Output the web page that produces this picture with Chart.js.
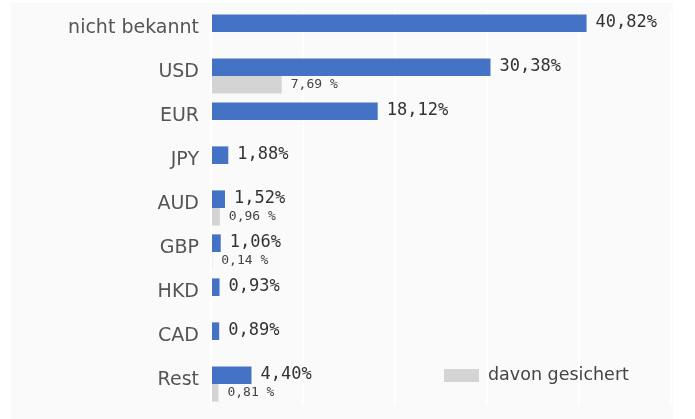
<!DOCTYPE html>
<html>
<head>
<meta charset="utf-8">
<script src="https://cdn.jsdelivr.net/npm/chart.js@4/dist/chart.umd.min.js"></script>
<style>
  html, body { margin: 0; padding: 0; background: #ffffff; }
  #wrap { width: 695px; height: 419px; }
</style>
</head>
<body>
<div id="wrap"><canvas id="c" width="695" height="419"></canvas></div>
<script>
const categories = ['nicht bekannt', 'USD', 'EUR', 'JPY', 'AUD', 'GBP', 'HKD', 'CAD', 'Rest'];
const shareValues = [40.82, 30.38, 18.12, 1.88, 1.52, 1.06, 0.93, 0.89, 4.40];
const hedgedValues = [null, 7.69, null, null, 0.96, 0.14, null, null, 0.81];
const shareLabel = 'Anteil';
const hedgedLabel = 'davon gesichert';
const axisMax = 50;

const fmt = (v) => v.toFixed(2).replace('.', ',');

const panelPlugin = {
  id: 'panel',
  beforeDraw(chart) {
    const ctx = chart.ctx;
    ctx.save();
    ctx.fillStyle = '#fafafa';
    ctx.fillRect(11, 3, 662, 416);
    ctx.restore();
  }
};

const valueLabels = {
  id: 'valueLabels',
  afterDatasetsDraw(chart) {
    const ctx = chart.ctx;
    ctx.save();
    ctx.textAlign = 'left';
    ctx.textBaseline = 'middle';
    chart.data.datasets.forEach((ds, di) => {
      const meta = chart.getDatasetMeta(di);
      meta.data.forEach((bar, i) => {
        const v = ds.data[i];
        if (v === null || v === undefined) return;
        if (di === 0) {
          ctx.font = '17px "DejaVu Sans Mono"';
          ctx.fillStyle = '#333333';
          ctx.fillText(fmt(v) + '%', bar.x + 9, bar.y - 1);
        } else {
          ctx.font = '13px "DejaVu Sans Mono"';
          ctx.fillStyle = '#444444';
          ctx.fillText(fmt(v) + ' %', bar.x + 9, bar.y);
        }
      });
    });
    ctx.restore();
  }
};

const legendPlugin = {
  id: 'customLegend',
  afterDraw(chart) {
    const ds = chart.data.datasets[1];
    const ctx = chart.ctx;
    ctx.save();
    ctx.fillStyle = ds.backgroundColor;
    ctx.fillRect(444, 369, 35, 13);
    ctx.font = '17.5px "DejaVu Sans"';
    ctx.fillStyle = '#444444';
    ctx.textAlign = 'left';
    ctx.textBaseline = 'middle';
    ctx.fillText(ds.label, 488, 375);
    ctx.restore();
  }
};

new Chart(document.getElementById('c'), {
  type: 'bar',
  data: {
    labels: categories,
    datasets: [
      { label: shareLabel, data: shareValues, backgroundColor: '#4472c4', barPercentage: 1.0, categoryPercentage: 0.8 },
      { label: hedgedLabel, data: hedgedValues, backgroundColor: '#d4d4d4', barPercentage: 1.0, categoryPercentage: 0.8 }
    ]
  },
  options: {
    indexAxis: 'y',
    responsive: false,
    animation: false,
    layout: { padding: { top: 10, bottom: 13, right: 24, left: 0 } },
    plugins: { legend: { display: false }, tooltip: { enabled: false } },
    scales: {
      x: {
        min: 0,
        max: axisMax,
        ticks: { display: false, stepSize: 10 },
        border: { display: false },
        grid: { color: '#ffffff', lineWidth: 2, drawTicks: false },
        afterFit(scale) { scale.height = 0; scale.paddingLeft = 0; scale.paddingRight = 0; }
      },
      y: {
        ticks: {
          color: '#555555',
          font: { family: 'DejaVu Sans', size: 19 },
          padding: 12,
          labelOffset: -4
        },
        border: { display: false },
        grid: { display: false, drawTicks: false },
        afterFit(scale) { scale.width = 211; scale.paddingTop = 0; scale.paddingBottom = 0; }
      }
    }
  },
  plugins: [panelPlugin, valueLabels, legendPlugin]
});
</script>
</body>
</html>
